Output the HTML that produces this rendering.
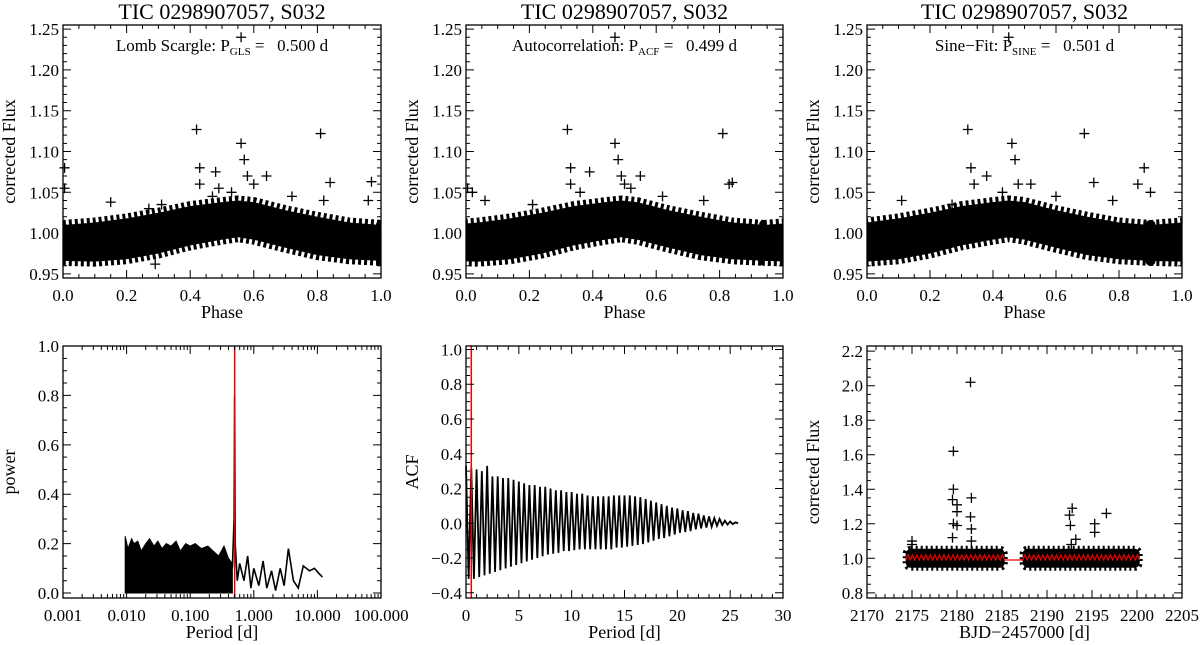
<!DOCTYPE html>
<html><head><meta charset="utf-8"><style>
html,body{margin:0;padding:0;background:#fff;}
svg{display:block;font-family:"Liberation Serif",serif;}
</style></head><body>
<svg id="fig" width="1200" height="645" viewBox="0 0 1200 645">
<defs>
<clipPath id="c1"><rect x="63" y="25" width="318" height="253"/></clipPath>
<clipPath id="c2"><rect x="466" y="25" width="317" height="253"/></clipPath>
<clipPath id="c3"><rect x="867" y="25" width="315" height="253"/></clipPath>
</defs>
</svg>
<script>
// ---------- data ----------
const phaseGrid=[0,0.1,0.2,0.3,0.4,0.5,0.55,0.6,0.7,0.8,0.9,1.0];
const bandUpper=[1.01,1.013,1.018,1.025,1.033,1.038,1.04,1.038,1.028,1.02,1.013,1.01];
const bandLower=[0.966,0.965,0.968,0.975,0.985,0.992,0.995,0.992,0.982,0.973,0.968,0.966];
const phaseShifts=[0,-0.06,-0.1];
const out1X=[0.56,0.42,0.81,0.56,0.57,0.43,0.005,0.005,0.43,0.48,0.64,0.84,0.97,0.15,0.29,0.58,0.49,0.31,0.96,0.47,0.72,0.6,0.53,0.82,0.27];
const out1Y=[1.24,1.127,1.122,1.11,1.09,1.08,1.08,1.055,1.06,1.075,1.07,1.062,1.063,1.038,0.962,1.07,1.055,1.035,1.04,1.045,1.045,1.06,1.05,1.04,1.03];
const out2X=[0.47,0.32,0.81,0.47,0.48,0.33,0.005,0.33,0.39,0.55,0.84,0.83,0.06,0.21,0.5,0.02,0.49,0.52,0.36,0.62,0.75];
const out2Y=[1.24,1.127,1.122,1.11,1.09,1.08,1.055,1.06,1.075,1.07,1.062,1.06,1.04,1.035,1.06,1.05,1.07,1.055,1.05,1.045,1.04];
const out3X=[0.45,0.32,0.69,0.46,0.47,0.33,0.72,0.88,0.86,0.9,0.38,0.52,0.11,0.27,0.48,0.34,0.43,0.6,0.78];
const out3Y=[1.24,1.127,1.122,1.11,1.09,1.08,1.062,1.08,1.06,1.05,1.07,1.06,1.04,1.035,1.06,1.06,1.05,1.045,1.04];
const glsNoiseP=[0.0095,0.0105,0.012,0.013,0.015,0.017,0.02,0.023,0.027,0.031,0.036,0.042,0.05,0.06,0.07,0.085,0.1,0.12,0.15,0.19,0.23,0.28,0.34,0.4,0.46];
const glsNoiseV=[0.23,0.18,0.22,0.2,0.21,0.17,0.2,0.22,0.19,0.21,0.18,0.2,0.19,0.21,0.17,0.2,0.19,0.2,0.18,0.19,0.17,0.15,0.19,0.14,0.12];
const glsP=[0.46,0.49,0.5,0.51,0.55,0.6,0.7,0.8,0.9,1.0,1.2,1.4,1.6,1.9,2.2,2.6,3.0,3.5,4.2,5,6,7.5,9,10.5,12];
const glsV=[0.1,0.3,0.8,0.2,0.05,0.12,0.05,0.15,0.02,0.1,0.03,0.13,0.02,0.09,0.01,0.1,0.03,0.18,0.05,0.02,0.11,0.09,0.1,0.08,0.065];
const glsPeriod=0.5;
const acfPeaks=[0.33,0.32,0.31,0.3,0.33,0.27,0.27,0.26,0.26,0.25,0.24,0.23,0.22,0.22,0.21,0.21,0.2,0.19,0.19,0.18,0.18,0.17,0.17,0.16,0.155,0.155,0.155,0.155,0.16,0.16,0.16,0.16,0.155,0.15,0.14,0.13,0.12,0.11,0.1,0.09,0.085,0.075,0.07,0.06,0.055,0.045,0.04,0.03,0.025,0.015,0.01,0.005];
const acfTroughs=[-0.32,-0.32,-0.31,-0.3,-0.29,-0.28,-0.27,-0.26,-0.25,-0.24,-0.23,-0.22,-0.21,-0.2,-0.19,-0.18,-0.175,-0.17,-0.16,-0.16,-0.155,-0.15,-0.15,-0.15,-0.15,-0.15,-0.15,-0.15,-0.14,-0.14,-0.135,-0.13,-0.125,-0.12,-0.11,-0.1,-0.09,-0.085,-0.075,-0.065,-0.055,-0.05,-0.045,-0.035,-0.03,-0.025,-0.02,-0.015,-0.01,-0.008,-0.005,0];
const acfPeriod=0.5;
const lcSegStart=[2174.3,2187.3];
const lcSegEnd=[2185.3,2200.3];
const lcBandTop=1.055, lcBandBot=0.945, lcFitHi=1.02, lcFitLo=0.99;
const lcOutX=[2181.5,2179.6,2179.6,2179.5,2180.0,2180.0,2181.6,2181.5,2179.6,2180.0,2181.6,2192.8,2192.5,2192.6,2195.3,2195.3,2196.6,2175.0,2193.2,2179.5,2181.6,2192.7,2175.0];
const lcOutY=[2.02,1.62,1.4,1.34,1.31,1.27,1.35,1.24,1.2,1.19,1.17,1.29,1.25,1.19,1.2,1.15,1.26,1.1,1.11,1.12,1.1,1.08,1.08];
// ---------- helpers ----------
const NS='http://www.w3.org/2000/svg';
const svg=document.getElementById('fig');
function el(tag,attrs,parent){const e=document.createElementNS(NS,tag);for(const k in attrs)e.setAttribute(k,attrs[k]);(parent||svg).appendChild(e);return e;}
function txt(s,x,y,size,anchor,parent,rot){const t=el('text',{x:x,y:y,'font-size':size,'text-anchor':anchor||'middle',fill:'#000'},parent);if(rot)t.setAttribute('transform','rotate(-90 '+x+' '+y+')');t.textContent=s;return t;}
function lin(d0,d1,p0,p1){return v=>p0+(v-d0)/(d1-d0)*(p1-p0);}
function logs(d0,d1,p0,p1){return v=>p0+(Math.log10(v)-Math.log10(d0))/(Math.log10(d1)-Math.log10(d0))*(p1-p0);}
function fmt(v,dec){return v.toFixed(dec).replace('-','\u2212');}
function axes(g,b,sx,sy,xt,yt,xminor,yminor,xdec,ydec,xlab,ylab){
  el('rect',{x:b.x0,y:b.y0,width:b.x1-b.x0,height:b.y1-b.y0,fill:'none',stroke:'#000','stroke-width':1.3},g);
  const tk=[];
  xt.forEach(v=>{const x=sx(v);tk.push(['M',x,b.y1,'V',b.y1-8,'M',x,b.y0,'V',b.y0+8].join(' '));txt(typeof xdec==='function'?xdec(v):fmt(v,xdec),x,b.y1+23,17,'middle',g);});
  xminor.forEach(v=>{const x=sx(v);tk.push(['M',x,b.y1,'V',b.y1-4,'M',x,b.y0,'V',b.y0+4].join(' '));});
  yt.forEach(v=>{const y=sy(v);tk.push(['M',b.x0,y,'H',b.x0+8,'M',b.x1,y,'H',b.x1-8].join(' '));txt(fmt(v,ydec),b.x0-4,y+6,17,'end',g);});
  yminor.forEach(v=>{const y=sy(v);tk.push(['M',b.x0,y,'H',b.x0+4,'M',b.x1,y,'H',b.x1-4].join(' '));});
  const p=el('path',{d:tk.join(' '),stroke:'#000','stroke-width':1,fill:'none'},g);
  
  const xl=txt(xlab,(b.x0+b.x1)/2,b.y1+40,18,'middle',g);
  const yl=txt(ylab,b.x0-48,(b.y0+b.y1)/2,18,'middle',g,true);
}
function range(a,b,s){const r=[];for(let v=a;v<=b+1e-9;v+=s)r.push(+v.toFixed(6));return r;}
function cross(g,x,y,c){const p=el('path',{d:`M${x-5},${y}H${x+5}M${x},${y-5}V${y+5}`,stroke:c||'#000','stroke-width':1.3},g);}
// ---------- top phase panels ----------
const tops=[{x0:63,x1:381,lab:'Lomb Scargle: P',sub:'GLS',val:'0.500 d',ox:out1X,oy:out1Y,clip:'c1'},
            {x0:466,x1:783,lab:'Autocorrelation: P',sub:'ACF',val:'0.499 d',ox:out2X,oy:out2Y,clip:'c2'},
            {x0:867,x1:1182,lab:'Sine\u2212Fit: P',sub:'SINE',val:'0.501 d',ox:out3X,oy:out3Y,clip:'c3'}];
tops.forEach((p,i)=>{
  const g=el('g',{});
  const b={x0:p.x0,x1:p.x1,y0:25,y1:278};
  const sx=lin(0,1,b.x0,b.x1),sy=lin(0.945,1.255,b.y1,b.y0);
  const t=txt('TIC 0298907057, S032',(b.x0+b.x1)/2,19,22,'middle',g);
  const dg=el('g',{'clip-path':'url(#'+p.clip+')'},g);
  const sh=phaseShifts[i];let pts=[];
  for(let k=-1;k<=1;k++){pts=[];phaseGrid.forEach((ph,j)=>pts.push(sx(ph+sh+k)+','+sy(bandUpper[j])));
    for(let j=phaseGrid.length-1;j>=0;j--)pts.push(sx(phaseGrid[j]+sh+k)+','+sy(bandLower[j]));
    const poly=el('polygon',{points:pts.join(' '),fill:'#000',stroke:'#000','stroke-width':10,'stroke-dasharray':'3 3','stroke-linejoin':'round'},dg);
    }
  p.ox.forEach((x,j)=>cross(g,sx(x),sy(p.oy[j])));
  axes(g,b,sx,sy,range(0,1,0.2),range(0.95,1.25,0.05),range(0,1,0.05),range(0.95,1.25,0.01),1,2,'Phase','corrected Flux');
  const lt=el('text',{x:(b.x0+b.x1)/2,y:51,'font-size':17,'text-anchor':'middle'},g);
  
  lt.innerHTML=p.lab+'<tspan font-size="11" dy="4">'+p.sub+'</tspan><tspan dy="-4"> =\u00a0\u00a0 '+p.val+'</tspan>';
});
// ---------- periodogram ----------
(function(){
  const g=el('g',{});
  const b={x0:63,x1:381,y0:346,y1:598};
  const sx=logs(0.001,100,b.x0,b.x1),sy=lin(-0.02,1.0,b.y1,b.y0);
  const pts=[sx(glsNoiseP[0])+','+sy(0)];
  glsNoiseP.forEach((p,i)=>pts.push(sx(p)+','+sy(glsNoiseV[i])));
  pts.push(sx(glsNoiseP[glsNoiseP.length-1])+','+sy(0));
  const n=el('polygon',{points:pts.join(' '),fill:'#000',stroke:'#000','stroke-width':1},g);
  const l=el('polyline',{points:glsP.map((p,i)=>sx(p)+','+sy(glsV[i])).join(' '),fill:'none',stroke:'#000','stroke-width':1.6},g);
  
  const r=el('line',{x1:sx(glsPeriod),x2:sx(glsPeriod),y1:b.y0,y2:b.y1,stroke:'#e00','stroke-width':1.5},g);
  const minor=[];for(let d=-3;d<2;d++)for(let k=2;k<10;k++)minor.push(k*Math.pow(10,d));
  axes(g,b,sx,sy,[0.001,0.01,0.1,1,10,100],range(0,1,0.2),minor,range(0,1,0.05),v=>v.toFixed(3),1,'Period [d]','power');
})();
// ---------- ACF ----------
(function(){
  const g=el('g',{});
  const b={x0:466,x1:783,y0:346,y1:598};
  const sx=lin(0,30,b.x0,b.x1),sy=lin(-0.43,1.02,b.y1,b.y0);
  const pts=[];acfPeaks.forEach((v,i)=>{pts.push(sx(i*acfPeriod)+','+sy(v));pts.push(sx(i*acfPeriod+acfPeriod/2)+','+sy(acfTroughs[i]));});
  const l=el('polyline',{points:pts.join(' '),fill:'none',stroke:'#000','stroke-width':1.8},g);
  const r=el('line',{x1:sx(acfPeriod),x2:sx(acfPeriod),y1:b.y0,y2:b.y1,stroke:'#e00','stroke-width':1.5},g);
  axes(g,b,sx,sy,range(0,30,5),range(-0.4,1,0.2),range(0,30,1),range(-0.4,1,0.05),0,1,'Period [d]','ACF');
})();
// ---------- light curve ----------
(function(){
  const g=el('g',{});
  const b={x0:867,x1:1182,y0:346,y1:598};
  const sx=lin(2170,2205,b.x0,b.x1),sy=lin(0.77,2.23,b.y1,b.y0);
  lcSegStart.forEach((s,i)=>{
    const r=el('rect',{x:sx(s),y:sy(lcBandTop),width:sx(lcSegEnd[i])-sx(s),height:sy(lcBandBot)-sy(lcBandTop),fill:'#000',stroke:'#000','stroke-width':6,'stroke-dasharray':'2 3',rx:5},g);
    });
  lcOutX.forEach((x,j)=>cross(g,sx(x),sy(lcOutY[j])));
  const pts=[];lcSegStart.forEach((s,i)=>{let k=0;for(let t=s;t<=lcSegEnd[i];t+=0.25,k++)pts.push(sx(t)+','+sy(k%2?lcFitHi:lcFitLo));});
  const f=el('polyline',{points:pts.join(' '),fill:'none',stroke:'#e00','stroke-width':1.2},g);
  axes(g,b,sx,sy,range(2170,2205,5),range(0.8,2.2,0.2),range(2170,2205,1),range(0.8,2.2,0.05),0,1,'BJD\u22122457000 [d]','corrected Flux');
})();
</script>
</body></html>
